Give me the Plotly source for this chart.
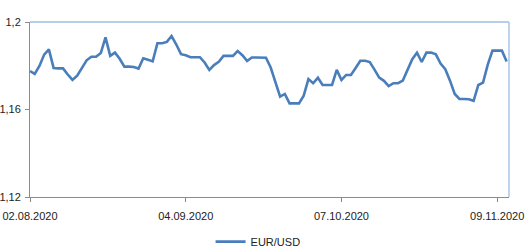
import datetime as dt
import plotly.graph_objects as go

start_date = "2020-08-02"
series_name = "EUR/USD"
eur_usd = [
    1.1776, 1.1763, 1.1799, 1.1851, 1.1875, 1.1790, 1.1788, 1.1788, 1.1760, 1.1735,
    1.1755, 1.1793, 1.1825, 1.1841, 1.1841, 1.1858, 1.1930, 1.1845, 1.1860, 1.1832,
    1.1796, 1.1796, 1.1794, 1.1787, 1.1834, 1.1827, 1.1820, 1.1903, 1.1903, 1.1909,
    1.1936, 1.1897, 1.1853, 1.1848, 1.1839, 1.1839, 1.1839, 1.1815, 1.1781, 1.1803,
    1.1818, 1.1845, 1.1845, 1.1845, 1.1867, 1.1848, 1.1822, 1.1838, 1.1838, 1.1837,
    1.1837, 1.1792, 1.1730, 1.1659, 1.1671, 1.1628, 1.1628, 1.1628, 1.1663, 1.1739,
    1.1720, 1.1745, 1.1712, 1.1712, 1.1712, 1.1781, 1.1735, 1.1758, 1.1758, 1.1790,
    1.1823, 1.1823, 1.1817, 1.1782, 1.1746, 1.1731, 1.1707, 1.1720, 1.1720, 1.1732,
    1.1780, 1.1830, 1.1860, 1.1817, 1.1860, 1.1860, 1.1852, 1.1810, 1.1784, 1.1732,
    1.1671, 1.1648, 1.1648, 1.1647, 1.1640, 1.1712, 1.1723, 1.1805, 1.1869, 1.1869,
    1.1869, 1.1819,
]
x_tick_dates = ["2020-08-02", "2020-09-04", "2020-10-07", "2020-11-09"]
x_tick_labels = ["02.08.2020", "04.09.2020", "07.10.2020", "09.11.2020"]
y_tick_vals = [1.12, 1.16, 1.20]
y_tick_labels = ["1,12", "1,16", "1,2"]

d0 = dt.datetime.fromisoformat(start_date)
dates = [d0 + dt.timedelta(days=i) for i in range(len(eur_usd))]

fig = go.Figure()
fig.add_trace(go.Scatter(
    x=dates, y=eur_usd, mode="lines", name=series_name,
    line=dict(color="#4a7ebb", width=2.6),
))

font = dict(family="Liberation Sans, Arial, sans-serif", size=11, color="#222222")
fig.update_layout(
    width=531, height=248,
    margin=dict(l=30, r=22, t=22, b=51, autoexpand=False),
    paper_bgcolor="white", plot_bgcolor="white",
    font=font,
    showlegend=True,
    legend=dict(orientation="h", x=0.377, xanchor="left", y=-0.172, yanchor="top",
                font=dict(size=11, color="#222222"), itemwidth=30),
    xaxis=dict(
        type="date",
        range=[d0, d0 + dt.timedelta(days=101.5)],
        tickvals=[dt.datetime.fromisoformat(d) for d in x_tick_dates],
        ticktext=x_tick_labels,
        showgrid=False, zeroline=False,
        showline=True, linecolor="#8c8c8c", linewidth=1,
        ticks="outside", ticklen=4, tickcolor="#8c8c8c",
        ticklabelstandoff=5,
        tickfont=font,
    ),
    yaxis=dict(
        range=[1.12, 1.20],
        tickvals=y_tick_vals, ticktext=y_tick_labels,
        showgrid=False, zeroline=False,
        showline=True, linecolor="#8c8c8c", linewidth=1,
        ticks="outside", ticklen=4, tickcolor="#8c8c8c",
        ticklabelstandoff=2,
        tickfont=font,
    ),
    shapes=[
        dict(type="line", xref="paper", yref="paper", x0=0, x1=1, y0=1, y1=1,
             line=dict(color="#6f9bd1", width=1)),
        dict(type="line", xref="paper", yref="paper", x0=1, x1=1, y0=0, y1=1,
             line=dict(color="#a9c4e8", width=1.5)),
    ],
)
fig.write_html(
    "out.html",
    config={"displayModeBar": False},
    post_script="document.body.style.margin='0';document.body.style.overflow='hidden';",
)
